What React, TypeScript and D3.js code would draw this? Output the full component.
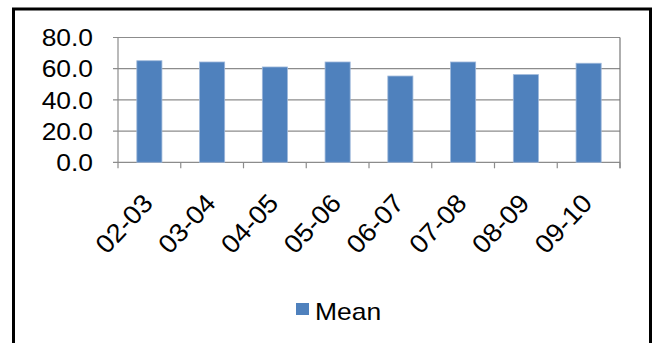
import React from "react";
import * as d3 from "d3";

const categories = ["02-03", "03-04", "04-05", "05-06", "06-07", "07-08", "08-09", "09-10"];
const meanValues = [65.1, 64.3, 61.1, 64.3, 55.3, 64.3, 56.2, 63.5];
const yTicks = [0, 20, 40, 60, 80];
const seriesName = "Mean";

const W = 652;
const H = 343;
const plot = { left: 118, right: 620, top: 37.5, bottom: 162.3 };
const FONT = "'Liberation Sans', Arial, sans-serif";
const SX = 1.1;
const BAR = "#4F81BD";
const GRID = "#8c8c8c";

export default function App() {
  const x = d3
    .scaleBand<string>()
    .domain(categories)
    .range([plot.left, plot.right])
    .paddingInner(0.6)
    .paddingOuter(0.3);
  const y = d3.scaleLinear().domain([0, 80]).range([plot.bottom, plot.top]);
  const step = (plot.right - plot.left) / categories.length;
  const fmt = d3.format(".1f");

  return (
    <svg
      width={W}
      height={H}
      style={{ position: "absolute", left: 0, top: 0, background: "#fff" }}
      fontFamily={FONT}
    >
      <rect x={0} y={0} width={W} height={H} fill="#fff" />
      {/* outer frame */}
      <rect x={13.5} y={9} width={637} height={H + 10} fill="none" stroke="#000" strokeWidth={3} />

      {/* gridlines */}
      {yTicks.map((t) => (
        <line key={"g" + t} x1={plot.left - 5} x2={plot.right} y1={y(t)} y2={y(t)} stroke={GRID} strokeWidth={1.2} />
      ))}
      {/* plot border */}
      <line x1={plot.left} x2={plot.left} y1={plot.top} y2={plot.bottom} stroke={GRID} strokeWidth={1.2} />
      <line x1={plot.right} x2={plot.right} y1={plot.top} y2={plot.bottom + 6} stroke="#777" strokeWidth={1.2} />

      {/* x ticks */}
      {d3.range(categories.length + 1).map((i) => (
        <line
          key={"xt" + i}
          x1={plot.left + i * step}
          x2={plot.left + i * step}
          y1={plot.bottom}
          y2={plot.bottom + 6}
          stroke={GRID}
          strokeWidth={1.2}
        />
      ))}

      {/* bars */}
      {categories.map((c, i) => (
        <rect
          key={c}
          x={x(c)}
          y={y(meanValues[i])}
          width={x.bandwidth()}
          height={y(0) - y(meanValues[i])}
          fill={BAR}
          stroke="#9db7da"
          strokeWidth={0.8}
        />
      ))}

      {/* y labels */}
      {yTicks.map((t) => (
        <text
          key={"yl" + t}
          transform={`translate(93,${y(t)}) scale(${SX},1)`}
          textAnchor="end"
          dy="0.36em"
          fontSize={24}
          fill="#000"
        >
          {fmt(t)}
        </text>
      ))}

      {/* x labels */}
      {categories.map((c) => (
        <text
          key={"xl" + c}
          transform={`translate(${(x(c) as number) + x.bandwidth() / 2 + 5},${plot.bottom + 42}) rotate(-47) scale(1.05,1)`}
          textAnchor="end"
          fontSize={26}
          fill="#000"
        >
          {c}
        </text>
      ))}

      {/* legend */}
      <rect x={296} y={303} width={13} height={12} fill={BAR} />
      <text transform={`translate(315,319.5) scale(1.15,1)`} fontSize={23} fill="#000">
        {seriesName}
      </text>
    </svg>
  );
}
